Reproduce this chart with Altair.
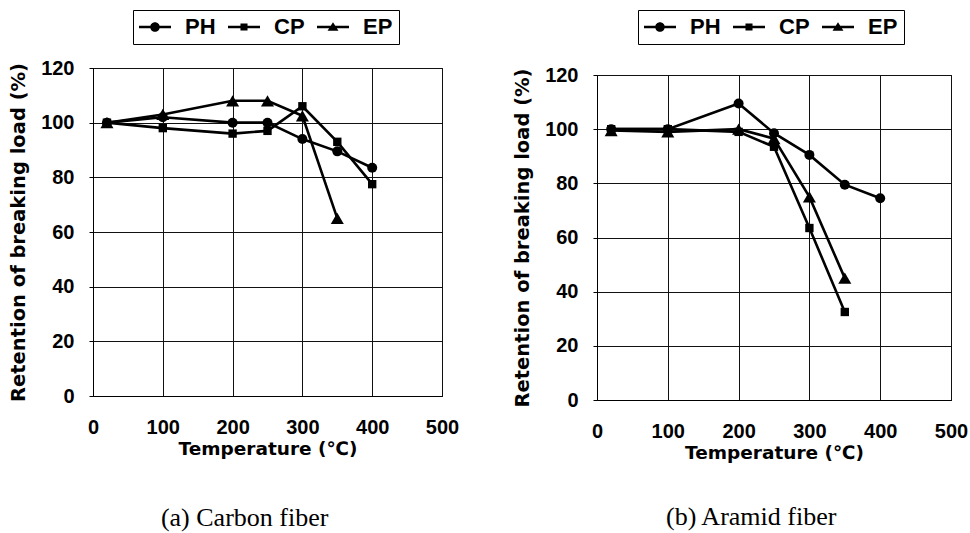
import altair as alt
import pandas as pd

# ---------------- data ----------------
temps = [20, 100, 200, 250, 300, 350, 400]
series = ["PH", "CP", "EP"]

carbon_PH = [100, 102, 100, 100, 94, 89.5, 83.5]
carbon_CP = [100, 98, 96, 97, 106, 93, 77.5]
carbon_EP = [100, 103, 108, 108, 102.5, 65]

aramid_PH = [100, 100, 109.5, 98.5, 90.5, 79.5, 74.5]
aramid_CP = [100, 100, 99, 93.5, 63.5, 32.5]
aramid_EP = [99.5, 99, 100, 96.5, 75, 45]

x_ticks = [0, 100, 200, 300, 400, 500]
y_ticks = [0, 20, 40, 60, 80, 100, 120]

captions = ["(a) Carbon fiber", "(b) Aramid fiber"]

marker_shapes = ["circle", "square", "triangle-up"]
marker_sizes = [100, 70, 170]


def make_df(ph, cp, ep):
    rows = []
    for name, vals in zip(series, [ph, cp, ep]):
        for t, v in zip(temps, vals):
            rows.append({"temp": t, "value": v, "series": name})
    return pd.DataFrame(rows)


# legend symbols: a short line with the marker in the middle (unit-box paths)
line_p = "M-1,-0.075H1V0.075H-1Z"
legend_paths = [
    line_p + "M0.3,0A0.3,0.3,0,1,1,-0.3,0A0.3,0.3,0,1,1,0.3,0Z",
    line_p + "M-0.22,-0.22H0.22V0.22H-0.22Z",
    line_p + "M0,-0.3L0.34,0.24H-0.34Z",
]


def panel(df, w, h, lx, ly, caption, cap_offset, extra):
    base = alt.Chart(df)
    x = alt.X(
        "temp:Q",
        scale=alt.Scale(domain=[0, 500], nice=False),
        axis=alt.Axis(
            values=x_ticks, title="Temperature (℃)", ticks=False, tickSize=0,
            labelPadding=21, titlePadding=2, labelFlush=False, format="d",
            titleFontSize=18.5,
        ),
    )
    y = alt.Y(
        "value:Q",
        scale=alt.Scale(domain=[0, 120], nice=False),
        axis=alt.Axis(
            values=y_ticks, title="Retention of breaking load (%)", tickSize=4,
            labelPadding=15, titlePadding=12, labelFlush=False, format="d",
            titleFontSize=19.5,
        ),
    )
    lines = base.mark_line(color="black", strokeWidth=2.6).encode(
        x=x, y=y, detail="series:N", order="temp:Q"
    )
    point_layers = []
    for name, shp, sz in zip(series, marker_shapes, marker_sizes):
        point_layers.append(
            base.transform_filter(alt.datum.series == name)
            .mark_point(filled=True, color="black", opacity=1, shape=shp, size=sz)
            .encode(x=x, y=y)
        )
    leg = (
        base.transform_filter("false")
        .mark_point(filled=True, color="black", size=1024, opacity=1)
        .encode(
            x=x,
            y=y,
            shape=alt.Shape(
                "series:N",
                scale=alt.Scale(domain=series, range=legend_paths),
                legend=alt.Legend(
                    title=None, orient="none", legendX=lx, legendY=ly,
                    direction="horizontal", symbolSize=1024,
                    symbolFillColor="black", symbolStrokeWidth=0,
                    labelOffset=14, columnPadding=12, clipHeight=22, padding=6,
                    strokeColor="black",
                ),
            ),
        )
    )
    title_kw = dict(
        orient="bottom", anchor="middle", frame="bounds",
        font="Liberation Serif", fontSize=26, fontWeight="normal",
        color="black", offset=cap_offset, baseline="top", dx=11,
    )
    if extra:
        title_kw.update(subtitle=" ", subtitleFontSize=1, subtitlePadding=extra)
    return alt.layer(lines, *point_layers, leg).properties(
        width=w, height=h, title=alt.Title(caption, **title_kw)
    )


left = panel(make_df(carbon_PH, carbon_CP, carbon_EP), 349, 328, 40, -58, captions[0], 47, 5)
right = panel(make_df(aramid_PH, aramid_CP, aramid_EP), 354, 325, 41, -65, captions[1], 42, 0)

chart = (
    alt.hconcat(left, right, spacing=52, center=True)
    .resolve_scale(shape="independent")
    .resolve_legend(shape="independent")
    .properties(padding={"left": 8, "top": 9, "right": 0, "bottom": -3}, background="white")
    .configure_view(stroke="black", strokeWidth=1)
    .configure_axis(
        labelFont="Liberation Sans", labelFontSize=20, labelFontWeight="bold",
        labelColor="black", titleFont="DejaVu Sans",
        titleFontWeight="bold", titleColor="black", gridColor="#111",
        gridWidth=1, gridOpacity=1, domainColor="black", domainWidth=1,
        tickColor="black",
    )
    .configure_legend(
        labelFont="Liberation Sans", labelFontSize=22, labelFontWeight="bold",
        labelColor="black",
    )
)

chart.save("out.html", embed_options={"renderer": "svg", "actions": False})
